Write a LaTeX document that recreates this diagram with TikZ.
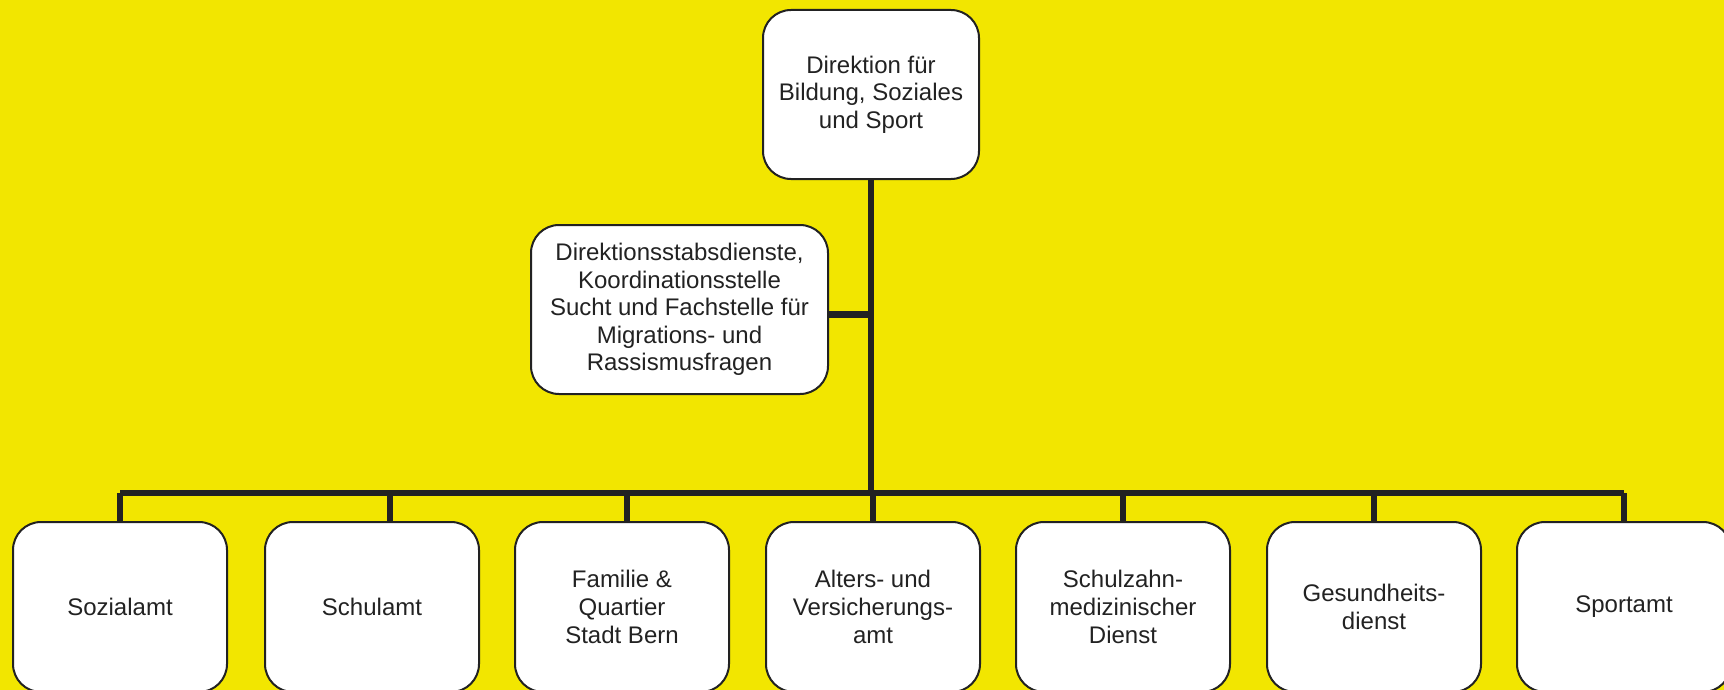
\documentclass[tikz,border=0pt]{standalone}
\usepackage{fontspec}
\setmainfont{Liberation Sans}
\definecolor{bernyellow}{HTML}{F2E600}
\definecolor{linegray}{HTML}{222222}

\begin{document}
\begin{tikzpicture}[x=0.5pt, y=-0.5pt,
        unit/.style={draw=linegray, line width=1pt, fill=white, rounded corners=14pt,
            align=center, text=linegray, inner sep=2pt,
            font=\fontsize{12}{13.8}\selectfont},
        link/.style={draw=linegray, line width=3pt}]
        % Background
        \fill[bernyellow] (0,0) rectangle (1724,690);
        \useasboundingbox (0,0) rectangle (1724,690);

        % Head and staff
        \node[unit, minimum width=108pt, minimum height=84.5pt] (dir) at (871,94.5)
            {Direktion für\\Bildung, Soziales\\und Sport};
        \node[unit, minimum width=148.5pt, minimum height=84.5pt] (staff) at (679.5,309.5)
            {Direktionsstabsdienste,\\Koordinationsstelle\\Sucht und Fachstelle für\\Migrations- und\\Rassismusfragen};

        % Offices
        \foreach \x/\name/\txt in {120/soz/Sozialamt, 372/schul/Schulamt,
            622/fam/{Familie \&\\Quartier\\Stadt Bern}, 873/alt/{Alters- und\\Versicherungs-\\amt},
            1123/zahn/{Schulzahn-\\medizinischer\\Dienst}, 1374/ges/{Gesundheits-\\dienst},
            1624/sport/Sportamt} {
            \node[unit, minimum width=107pt, minimum height=85pt] (\name) at (\x,607) {\txt};
        }

        % Lines
        \coordinate (bus) at (871,493);
        \draw[link] (dir.south) -- (bus);
        \draw[link, line width=3.5pt] ([yshift=-2.5pt]staff.east) -- ([yshift=-2.5pt]staff.east -| dir.south);
        \draw[link] (soz.north |- bus) -- (sport.north |- bus);
        \foreach \name in {soz, alt, zahn, ges, sport} {
            \draw[link, line width=2.6pt] (\name.north |- bus) -- (\name.north);
        }
        \draw[link, line width=2.6pt] ([xshift=9pt]schul.north |- bus) -- ([xshift=9pt]schul.north);
        \draw[link, line width=2.6pt] ([xshift=2.5pt]fam.north |- bus) -- ([xshift=2.5pt]fam.north);
    \end{tikzpicture}
\end{document}
